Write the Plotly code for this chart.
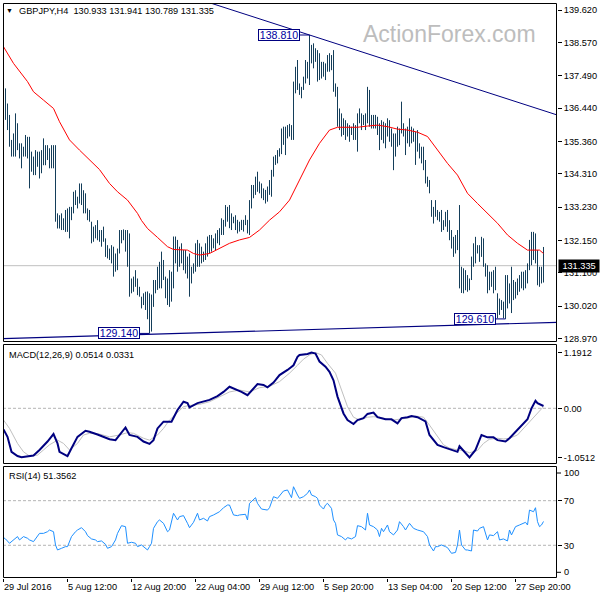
import plotly.graph_objects as go

# ---------------- data ----------------
symbol = "GBPJPY,H4"
last_bar = [130.933, 131.941, 130.789, 131.335]   # O H L C of the last bar
macd_now = ["0.0514", "0.0331"]
rsi_now = "51.3562"

bar_high = [
    139.32, 137.08, 136.59, 136.22, 135.41, 135.62, 136.27, 135.95, 135.30, 135.30,
    135.19, 135.57, 135.51, 135.51, 135.03, 134.87, 135.08, 135.03, 135.03, 135.08,
    135.46, 135.24, 135.24, 135.14, 135.24, 135.24, 135.24, 133.03, 132.97, 133.03,
    132.87, 133.14, 133.19, 133.24, 133.24, 133.73, 133.78, 133.57, 134.00, 134.00,
    133.78, 133.68, 133.19, 133.14, 132.76, 132.60, 132.65, 132.81, 132.49, 132.49,
    132.60, 132.22, 132.00, 131.89, 132.00, 131.95, 131.73, 131.89, 132.49, 132.49,
    132.51, 132.49, 132.49, 132.38, 130.92, 130.98, 131.19, 130.92, 130.65, 130.33,
    130.44, 130.49, 130.50, 130.44, 130.40, 130.87, 130.87, 131.30, 131.46, 131.79,
    131.52, 130.98, 130.92, 131.19, 131.14, 132.28, 132.28, 132.17, 131.95, 132.06,
    131.84, 131.84, 131.63, 131.73, 131.30, 131.41, 132.06, 132.17, 132.06, 131.95,
    131.79, 132.06, 132.28, 132.33, 132.33, 132.22, 132.38, 132.49, 132.55, 132.87,
    132.82, 133.30, 133.24, 133.30, 133.03, 132.92, 132.97, 132.82, 132.76, 132.82,
    132.82, 132.97, 132.82, 133.46, 133.95, 133.95, 134.22, 134.38, 134.06, 134.00,
    133.84, 133.79, 133.90, 134.11, 134.44, 134.87, 134.92, 135.08, 135.14, 135.78,
    135.84, 135.84, 135.89, 135.93, 135.89, 137.30, 137.78, 138.00, 137.24, 137.13,
    137.46, 138.00, 137.94, 138.81, 138.49, 138.54, 138.38, 138.32, 138.22, 137.94,
    137.94, 137.89, 138.16, 138.22, 138.16, 138.32, 137.24, 137.13, 136.43, 136.27,
    136.11, 136.05, 135.95, 135.89, 135.84, 135.95, 135.89, 136.27, 136.43, 136.27,
    136.22, 136.27, 137.13, 137.03, 136.22, 136.22, 136.22, 136.16, 135.95, 136.05,
    136.00, 135.95, 136.11, 136.05, 135.78, 135.62, 135.62, 135.84, 135.78, 136.65,
    135.95, 135.78, 135.84, 136.11, 135.84, 135.78, 135.68, 135.73, 135.30, 135.19,
    135.19, 134.76, 134.22, 134.11, 133.46, 133.24, 133.46, 133.14, 133.08, 133.14,
    132.81, 133.08, 133.14, 132.81, 132.49, 132.27, 132.33, 132.49, 133.30, 131.30,
    131.25, 131.19, 131.03, 130.92, 131.63, 132.06, 132.27, 132.00, 132.00, 132.27,
    132.22, 131.41, 131.35, 131.14, 131.14, 131.19, 131.30, 130.44, 130.27, 130.22,
    130.17, 131.03, 131.03, 130.76, 131.30, 130.87, 130.81, 130.92, 131.03, 131.14,
    131.14, 131.19, 131.41, 132.17, 132.43, 132.43, 132.38, 131.84, 131.30, 131.30,
    131.941,
]
bar_low = [
    135.51, 136.06, 135.73, 135.19, 134.87, 134.87, 134.87, 135.08, 134.81, 134.49,
    134.87, 134.87, 134.81, 133.84, 134.38, 134.27, 134.27, 134.54, 134.16, 134.33,
    134.59, 134.59, 134.76, 134.49, 134.49, 134.49, 132.76, 132.54, 132.54, 132.49,
    132.49, 132.43, 132.43, 132.22, 132.81, 133.03, 133.30, 133.19, 133.35, 133.30,
    133.03, 133.03, 132.81, 132.76, 132.06, 132.11, 132.22, 132.16, 132.11, 131.95,
    132.11, 131.62, 131.57, 131.52, 131.41, 130.98, 131.14, 131.19, 131.73, 132.06,
    132.16, 131.79, 131.30, 130.33, 130.44, 130.49, 130.65, 130.38, 130.33, 129.95,
    130.06, 129.90, 129.60, 129.14, 129.20, 130.00, 130.44, 130.55, 130.60, 130.60,
    130.87, 130.28, 130.06, 130.00, 130.17, 130.60, 131.41, 131.14, 131.30, 131.41,
    131.19, 131.08, 130.92, 130.33, 130.76, 131.08, 131.14, 131.30, 131.30, 131.41,
    131.46, 131.52, 131.63, 131.73, 131.79, 131.90, 131.84, 132.06, 132.00, 132.33,
    132.33, 132.60, 132.76, 132.55, 132.49, 132.71, 132.49, 132.38, 132.44, 132.49,
    132.44, 132.65, 132.38, 132.33, 133.19, 133.52, 133.63, 133.73, 133.68, 133.52,
    133.46, 133.35, 133.41, 133.63, 133.57, 134.22, 134.60, 134.65, 134.87, 134.95,
    135.25, 134.92, 135.46, 135.52, 135.41, 135.41, 136.92, 137.03, 136.87, 136.76,
    137.03, 137.24, 137.40, 137.19, 137.89, 137.73, 137.94, 137.30, 137.35, 137.40,
    137.46, 137.35, 137.62, 137.62, 137.67, 136.97, 136.81, 135.84, 135.73, 135.52,
    135.57, 135.41, 135.52, 135.35, 135.57, 135.41, 135.41, 135.03, 135.95, 135.73,
    135.89, 135.73, 135.95, 135.84, 135.78, 135.78, 135.78, 135.57, 135.08, 135.41,
    135.30, 135.14, 135.52, 135.35, 135.19, 134.43, 134.87, 135.19, 135.24, 135.62,
    135.52, 134.92, 135.30, 135.19, 135.30, 135.35, 134.60, 135.03, 134.81, 134.65,
    134.43, 134.00, 133.89, 133.68, 132.92, 132.70, 132.92, 132.81, 132.76, 132.43,
    132.49, 132.60, 132.43, 132.16, 131.89, 131.62, 131.73, 131.84, 130.60, 130.45,
    130.44, 130.54, 130.49, 130.54, 130.87, 131.30, 131.41, 131.73, 131.46, 131.62,
    131.30, 130.98, 130.44, 130.54, 130.65, 130.44, 130.54, 129.63, 129.74, 129.90,
    129.63, 129.61, 129.95, 130.11, 129.80, 130.22, 130.27, 130.38, 130.49, 130.60,
    130.54, 130.60, 130.76, 131.19, 131.35, 131.52, 131.41, 130.70, 130.65, 130.76,
    130.789,
]

ma_idx = [0, 5, 12, 15, 20, 25, 28, 33, 38, 43, 48, 53, 57, 62, 67, 69, 72, 77, 82, 85,
          92, 95, 98, 103, 108, 113, 118, 123, 128, 133, 138, 143, 148, 153, 158, 163, 167,
          172, 177, 182, 187, 192, 197, 202, 207, 212, 217, 222, 227, 232, 237, 242, 247,
          252, 257, 262, 265, 268, 270]
ma_val = [138.43, 137.89, 137.30, 136.97, 136.70, 136.43, 136.00, 135.41, 135.08, 134.76,
          134.45, 134.00, 133.73, 133.46, 133.03, 132.80, 132.54, 132.25, 131.95, 131.86,
          131.84, 131.73, 131.68, 131.73, 131.90, 132.06, 132.17, 132.25, 132.49, 132.81,
          133.08, 133.46, 134.11, 134.76, 135.30, 135.73, 135.82, 135.81, 135.82, 135.86,
          135.89, 135.84, 135.76, 135.73, 135.66, 135.52, 135.08, 134.65, 134.27, 133.68,
          133.35, 133.03, 132.71, 132.33, 132.06, 131.84, 131.84, 131.84, 131.73]

macd_idx = [0, 2, 4, 7, 9, 12, 15, 18, 22, 25, 27, 28, 32, 34, 37, 41, 43, 47, 50, 53,
            56, 58, 61, 63, 67, 70, 73, 75, 77, 80, 84, 87, 90, 92, 93, 97, 100, 103, 107,
            110, 113, 117, 119, 122, 127, 130, 132, 135, 138, 142, 145, 147, 148, 152, 154,
            156, 158, 161, 163, 165, 167, 170, 172, 175, 177, 180, 182, 185, 187, 191, 194,
            197, 199, 202, 204, 207, 211, 213, 217, 220, 223, 227, 228, 231, 233, 236, 239,
            242, 245, 247, 251, 253, 257, 260, 262, 264, 266, 267, 270]
macd_val = [-0.45, -0.61, -0.93, -1.02, -1.045, -1.03, -1.01, -0.89, -0.71, -0.55, -0.75,
            -0.93, -1.02, -0.855, -0.61, -0.48, -0.50, -0.56, -0.61, -0.66, -0.68, -0.57,
            -0.41, -0.57, -0.61, -0.71, -0.76, -0.68, -0.43, -0.285, -0.285, -0.036, 0.14,
            0.11, 0.02, 0.11, 0.14, 0.18, 0.26, 0.35, 0.46, 0.39, 0.35, 0.28, 0.52, 0.50,
            0.45, 0.55, 0.71, 0.82, 0.92, 1.10, 1.14, 1.16, 1.19, 1.17, 1.00, 0.89, 0.78,
            0.60, 0.25, -0.11, -0.25, -0.335, -0.25, -0.21, -0.12, -0.09, -0.19, -0.235,
            -0.235, -0.32, -0.21, -0.19, -0.165, -0.19, -0.28, -0.57, -0.78, -0.83, -0.88,
            -0.93, -0.81, -0.96, -1.05, -0.89, -0.57, -0.62, -0.62, -0.68, -0.71, -0.64,
            -0.45, -0.32, -0.235, 0.0, 0.16, 0.11, 0.05]

sig_idx = [0, 3, 7, 10, 13, 17, 20, 23, 27, 30, 33, 37, 40, 43, 48, 53, 58, 62, 65, 70,
           73, 77, 80, 83, 87, 90, 93, 98, 103, 108, 113, 118, 123, 128, 133, 138, 143, 147,
           150, 153, 156, 159, 162, 166, 169, 172, 175, 178, 182, 185, 188, 192, 195, 198,
           202, 206, 210, 213, 217, 220, 223, 227, 230, 233, 237, 240, 243, 247, 250, 253,
           257, 260, 263, 267, 270]
sig_val = [-0.25, -0.43, -0.75, -0.93, -1.02, -1.00, -0.89, -0.78, -0.68, -0.75, -0.89,
           -0.75, -0.57, -0.535, -0.55, -0.61, -0.57, -0.52, -0.535, -0.64, -0.68, -0.57,
           -0.43, -0.25, -0.09, 0.035, 0.06, 0.085, 0.14, 0.25, 0.35, 0.39, 0.35, 0.44,
           0.47, 0.57, 0.75, 0.92, 1.05, 1.14, 1.19, 1.14, 0.96, 0.75, 0.39, 0.035, -0.19,
           -0.25, -0.19, -0.18, -0.19, -0.235, -0.25, -0.235, -0.21, -0.165, -0.19, -0.36,
           -0.61, -0.78, -0.85, -0.89, -0.90, -0.95, -0.90, -0.75, -0.66, -0.64, -0.655,
           -0.64, -0.57, -0.43, -0.285, -0.11, 0.035]

rsi_idx = [0, 1, 3, 5, 7, 8, 10, 12, 13, 15, 17, 18, 20, 22, 23, 25, 26, 27, 29, 31, 32,
           34, 36, 37, 39, 41, 42, 44, 46, 47, 49, 51, 52, 54, 56, 57, 59, 61, 62, 64, 66,
           67, 69, 71, 72, 73, 74, 75, 77, 78, 80, 82, 83, 85, 87, 88, 90, 92, 93, 95, 97,
           98, 100, 102, 103, 105, 107, 108, 110, 112, 113, 115, 117, 118, 121, 122, 123,
           126, 127, 129, 132, 133, 135, 137, 140, 142, 144, 145, 147, 148, 150, 152, 153,
           154, 156, 157, 158, 160, 161, 162, 164, 165, 166, 167, 169, 171, 172, 174, 176,
           177, 179, 181, 182, 183, 185, 187, 188, 189, 190, 192, 193, 195, 197, 198, 200,
           201, 203, 205, 207, 210, 212, 213, 215, 216, 217, 219, 221, 222, 224, 226, 227,
           228, 229, 231, 232, 234, 235, 237, 238, 240, 242, 243, 245, 247, 248, 250, 252,
           253, 254, 256, 258, 261, 262, 263, 265, 266, 267, 268, 269, 270]
rsi_val = [36.9, 35.7, 31.8, 34.8, 37.8, 34.8, 37.8, 36.3, 34.8, 33.3, 38.7, 40.7, 40.7,
           42.2, 43.7, 42.2, 30.3, 25.8, 27.3, 28.8, 28.8, 37.8, 42.2, 43.7, 45.8, 42.2,
           38.7, 35.7, 34.8, 33.3, 33.9, 30.9, 27.3, 28.8, 34.8, 40.7, 47.6, 46.7, 31.8,
           32.7, 31.8, 28.8, 30.3, 27.3, 25.8, 28.8, 31.8, 45.2, 51.2, 52.7, 49.7, 42.2,
           43.7, 58.7, 52.7, 55.7, 56.6, 49.7, 45.8, 50.6, 58.7, 52.7, 54.2, 51.8, 55.7,
           57.2, 58.7, 60.1, 63.7, 66.1, 66.1, 57.2, 56.6, 57.2, 57.8, 52.7, 67.6, 72.7,
           67.6, 62.5, 61.6, 63.7, 73.6, 72.1, 78.7, 79.6, 72.7, 82.5, 75.1, 72.1, 73.6,
           76.6, 79.6, 75.1, 73.6, 72.1, 66.1, 62.5, 66.1, 67.6, 63.1, 52.7, 49.7, 39.3,
           37.8, 34.8, 36.9, 35.7, 37.8, 47.6, 46.7, 43.7, 58.7, 48.2, 46.7, 43.7, 37.8,
           45.2, 42.2, 48.2, 42.2, 39.3, 43.7, 51.2, 46.7, 43.7, 49.7, 45.2, 43.7, 42.2,
           37.8, 30.3, 24.9, 28.8, 28.8, 30.3, 28.8, 27.9, 22.8, 23.6, 30.3, 43.7, 30.3,
           25.8, 25.8, 24.9, 43.7, 42.8, 45.2, 46.7, 34.8, 39.3, 38.7, 42.2, 34.8, 35.7,
           33.9, 43.7, 39.3, 46.7, 48.2, 50.6, 48.2, 61.6, 60.1, 63.7, 51.2, 46.7, 48.2,
           51.36]

# swing labels (bar index, price) and trend line anchors (bar index, price)
swing_idx = [153, 73, 251]
swing_price = [138.810, 129.140, 129.610]
upper_trend_idx = [153, 276.75]
upper_trend_price = [138.81, 136.22]
lower_trend_idx = [-0.25, 276.75]
lower_trend_price = [128.97, 129.50]

price_tick_vals = [139.620, 138.570, 137.490, 136.440, 135.360, 134.310,
                   133.230, 132.150, 131.100, 130.020, 128.970]
macd_tick_vals = [1.1912, 0.0, -1.0512]
macd_tick_text = ["1.1912", "0.00", "-1.0512"]
rsi_levels = [30, 70]
rsi_level_text = ["30", "70"]
rsi_edge_text = ["100", "0"]       # MT4 draws these just inside the panel edges
date_idx = [0, 32, 64, 96, 128, 160, 192, 224, 256]
date_text = ["29 Jul 2016", "5 Aug 12:00", "12 Aug 20:00", "22 Aug 04:00",
             "29 Aug 12:00", "5 Sep 20:00", "13 Sep 04:00", "20 Sep 12:00",
             "27 Sep 20:00"]

# ---------------- layout geometry ----------------
W, H = 600, 600
ML, MR, MT, MB = 3, 43, 3, 22
PW, PH = W - ML - MR, H - MT - MB


def X(px):
    return (px - ML) / PW


def Y(py):
    return (H - MB - py) / PH


main_dom = [Y(342), 1.0]
macd_dom = [Y(464), Y(344)]
rsi_dom = [0.0, Y(466)]
main_range = [128.862, 139.847]
macd_range = [-1.190, 1.374]
rsi_range = [0.67, 101.1]
rsi_edge_px = [473, 572.3]
x_range = [-0.25, 276.75]

FONT = "Liberation Sans, Arial, sans-serif"
FS = 9.2
BAR = "#143e5a"
NAVY = "#000080"

fig = go.Figure()

# price bars (high-low lines)
bx, by = [], []
for i, (h, l) in enumerate(zip(bar_high, bar_low)):
    bx += [i, i, None]
    by += [l, h, None]
fig.add_trace(go.Scatter(x=bx, y=by, mode="lines", line=dict(color=BAR, width=1),
                         xaxis="x", yaxis="y", hoverinfo="skip"))

# moving average
fig.add_trace(go.Scatter(x=ma_idx, y=ma_val, mode="lines", line=dict(color="#ff0000", width=1),
                         xaxis="x", yaxis="y", hoverinfo="skip"))

# trend lines (extended as rays, clipped by the panel)
slope_u = (upper_trend_price[1] - upper_trend_price[0]) / (upper_trend_idx[1] - upper_trend_idx[0])
ux = [90, upper_trend_idx[1]]
uy = [upper_trend_price[0] + slope_u * (x - upper_trend_idx[0]) for x in ux]
fig.add_trace(go.Scatter(x=ux, y=uy, mode="lines", line=dict(color=NAVY, width=1),
                         xaxis="x", yaxis="y", hoverinfo="skip"))
fig.add_trace(go.Scatter(x=lower_trend_idx, y=lower_trend_price, mode="lines",
                         line=dict(color=NAVY, width=1.2), xaxis="x", yaxis="y", hoverinfo="skip"))

# MACD
fig.add_trace(go.Scatter(x=sig_idx, y=sig_val, mode="lines", line=dict(color="#c0c0c0", width=1),
                         xaxis="x", yaxis="y2", hoverinfo="skip"))
fig.add_trace(go.Scatter(x=macd_idx, y=macd_val, mode="lines", line=dict(color=NAVY, width=2),
                         xaxis="x", yaxis="y2", hoverinfo="skip"))

# RSI
fig.add_trace(go.Scatter(x=rsi_idx, y=rsi_val, mode="lines", line=dict(color="#1e90ff", width=1),
                         xaxis="x", yaxis="y3", hoverinfo="skip"))

shapes = []
# current price line
shapes.append(dict(type="line", xref="x domain", x0=0, x1=1, yref="y", y0=last_bar[3], y1=last_bar[3],
                   line=dict(color="#c0c0c0", width=1), layer="below"))
# MACD zero + RSI levels
shapes.append(dict(type="line", xref="x domain", x0=0, x1=1, yref="y2", y0=0, y1=0,
                   line=dict(color="#b4b4b4", width=1, dash="3px,2px"), layer="below"))
for lv in rsi_levels:
    shapes.append(dict(type="line", xref="x domain", x0=0, x1=1, yref="y3", y0=lv, y1=lv,
                       line=dict(color="#b4b4b4", width=1, dash="3px,2px"), layer="below"))
# panel frames
for top, bot in [(3, 342), (344, 464), (466, 578)]:
    shapes.append(dict(type="rect", xref="paper", yref="paper",
                       x0=X(3.5), x1=X(556.5), y0=Y(bot - 0.5), y1=Y(top + 0.5),
                       line=dict(color="black", width=1), fillcolor="rgba(0,0,0,0)"))
# tick marks of RSI edge labels
for py in rsi_edge_px:
    shapes.append(dict(type="line", xref="paper", yref="paper", x0=X(557), x1=X(561),
                       y0=Y(py), y1=Y(py), line=dict(color="black", width=1)))
# connectors of swing labels
for si, sp in zip(swing_idx, swing_price):
    shapes.append(dict(type="line", xref="x", yref="y", x0=si - 5, x1=si, y0=sp, y1=sp,
                       line=dict(color=NAVY, width=1)))

annotations = []
annotations.append(dict(text="\u25bc", xref="paper", yref="paper", x=X(9), y=Y(10.5),
                        xanchor="center", yanchor="middle", showarrow=False,
                        font=dict(family=FONT, size=7, color="black")))
annotations.append(dict(text=symbol + "\u00a0\u00a0" + " ".join(f"{v:.3f}" for v in last_bar),
                        xref="paper", yref="paper", x=X(17), y=Y(10.8),
                        xanchor="left", yanchor="middle", showarrow=False,
                        font=dict(family=FONT, size=FS, color="black")))
annotations.append(dict(text="ActionForex.com", xref="paper", yref="paper", x=X(361), y=Y(34),
                        xanchor="left", yanchor="middle", showarrow=False,
                        font=dict(family=FONT, size=23, color="#bdbdbd")))
annotations.append(dict(text="MACD(12,26,9) " + " ".join(macd_now), xref="paper", yref="paper",
                        x=X(7), y=Y(355), xanchor="left", yanchor="middle", showarrow=False,
                        font=dict(family=FONT, size=FS, color="black")))
annotations.append(dict(text="RSI(14) " + rsi_now, xref="paper", yref="paper",
                        x=X(7), y=Y(476), xanchor="left", yanchor="middle", showarrow=False,
                        font=dict(family=FONT, size=FS, color="black")))
for txt, py in zip(rsi_edge_text, rsi_edge_px):
    annotations.append(dict(text=txt, xref="paper", yref="paper", x=X(562), y=Y(py),
                            xanchor="left", yanchor="middle", showarrow=False,
                            font=dict(family=FONT, size=FS, color="black")))
for si, sp in zip(swing_idx, swing_price):
    annotations.append(dict(text=f"{sp:.3f}", xref="x", yref="y", x=si - 5, y=sp,
                            xanchor="right", yanchor="middle", showarrow=False,
                            width=40, height=10, borderpad=0, borderwidth=1, bordercolor=NAVY,
                            bgcolor="white", font=dict(family=FONT, size=10.6, color="#0000a0")))
annotations.append(dict(text=f"{last_bar[3]:.3f}", xref="paper", yref="y", x=1, y=last_bar[3],
                        xanchor="left", yanchor="middle", xshift=1, showarrow=False,
                        width=40, height=12, borderpad=0, bgcolor="black",
                        font=dict(family=FONT, size=FS, color="white")))

yax_common = dict(side="right", anchor="x", showgrid=False, zeroline=False, showline=False,
                  ticks="outside", ticklen=4, tickwidth=1, tickcolor="black",
                  tickfont=dict(family=FONT, size=FS, color="black"), automargin=False,
                  fixedrange=True)

fig.update_layout(
    width=W, height=H, margin=dict(l=ML, r=MR, t=MT, b=MB, pad=0),
    paper_bgcolor="white", plot_bgcolor="white", showlegend=False, hovermode=False,
    xaxis=dict(domain=[0, 1], range=x_range, anchor="y3", showgrid=False, zeroline=False,
               showline=False, tickmode="array", tickvals=date_idx, ticktext=date_text,
               ticks="outside", ticklen=3, tickcolor="black", ticklabelposition="outside right",
               tickfont=dict(family=FONT, size=FS, color="black"), automargin=False,
               fixedrange=True),
    yaxis=dict(domain=main_dom, range=main_range, tickmode="array", tickvals=price_tick_vals,
               ticktext=[f"{v:.3f}" for v in price_tick_vals], **yax_common),
    yaxis2=dict(domain=macd_dom, range=macd_range, tickmode="array", tickvals=macd_tick_vals,
                ticktext=macd_tick_text, **yax_common),
    yaxis3=dict(domain=rsi_dom, range=rsi_range, tickmode="array", tickvals=rsi_levels,
                ticktext=rsi_level_text, **yax_common),
    shapes=shapes, annotations=annotations,
)

fig.write_html("out.html", config={"displayModeBar": False})
